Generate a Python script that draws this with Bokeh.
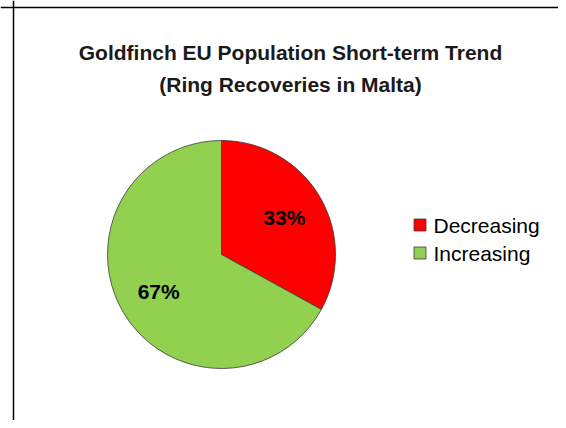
import numpy as np
from bokeh.plotting import figure
from bokeh.models import ColumnDataSource, Span
from bokeh.core.properties import value
from bokeh.embed import file_html
from bokeh.resources import INLINE

# ---- data ----
title_lines = ["Goldfinch EU Population Short-term Trend", "(Ring Recoveries in Malta)"]
categories = ["Decreasing", "Increasing"]
values = [33, 67]
colors = ["#FF0000", "#92D050"]

W, H = 558, 420
p = figure(width=W, height=H, x_range=(0, W), y_range=(0, H),
           min_border=0, toolbar_location=None, output_backend="svg")
p.axis.visible = False
p.grid.visible = False
p.outline_line_color = None
p.background_fill_color = "white"

# frame lines
p.add_layout(Span(location=13, dimension="height", line_color="black", line_width=1.5))
p.add_layout(Span(location=H - 7, dimension="width", line_color="black", line_width=1.5))

# pie
cx, cy, R = 221, 166, 114
vals = np.array(values, dtype=float)
frac = vals / vals.sum()
cum = np.cumsum(frac)
start = np.pi / 2 - (cum - frac) * 2 * np.pi
end = np.pi / 2 - cum * 2 * np.pi
mid = (start + end) / 2
src = ColumnDataSource(dict(cat=categories, val=values, color=colors,
                            start=start, end=end,
                            lx=cx + 0.64 * R * np.cos(mid),
                            ly=cy + 0.64 * R * np.sin(mid),
                            label=[f"{round(f*100)}%" for f in frac]))
p.wedge(x=cx, y=cy, radius=R, start_angle="start", end_angle="end",
        direction="clock", fill_color="color", line_color="#3a3a3a",
        line_width=0.8, source=src)
p.text(x="lx", y="ly", text="label", source=src, text_align="center",
       text_baseline="middle", text_font=value("Liberation Sans"),
       text_font_size="21px", text_font_style="bold", text_color="black")

# title
tsrc = ColumnDataSource(dict(t=title_lines, x=[290, 290], y=[H - 52, H - 84]))
p.text(x="x", y="y", text="t", source=tsrc, text_align="center",
       text_baseline="alphabetic", text_font=value("Liberation Sans"),
       text_font_size="21px", text_font_style="bold", text_color="#1a1a1a")

# legend
n = len(categories)
ly0 = H - 224.5
lsrc = ColumnDataSource(dict(cat=categories, color=colors,
                             y=[ly0 - 28 * i for i in range(n)],
                             sx=[419.5] * n, tx=[433] * n))
p.rect(x="sx", y="y", width=12, height=12, fill_color="color",
       line_color="#3a3a3a", line_width=0.8, source=lsrc)
p.text(x="tx", y="y", text="cat", source=lsrc, text_align="left",
       text_baseline="middle", text_font=value("Liberation Sans"),
       text_font_size="21px", text_color="black")

open("out.html", "w").write(file_html(p, INLINE))
